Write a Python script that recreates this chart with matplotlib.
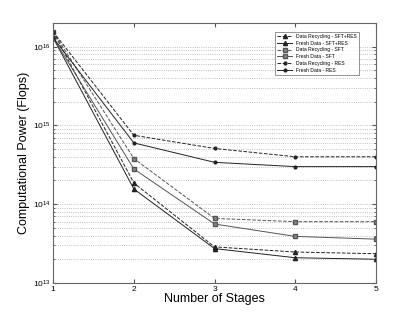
import numpy as np
import matplotlib.pyplot as plt
from matplotlib.ticker import LogLocator, NullFormatter

plt.rcParams['font.family'] = ['Liberation Sans', 'DejaVu Sans']

stages = [1, 2, 3, 4, 5]
dr_sft_res = [1.55e16, 1.86e14, 2.87e13, 2.47e13, 2.35e13]
fd_sft_res = [1.3e16, 1.56e14, 2.73e13, 2.09e13, 2.0e13]
dr_sft = [1.55e16, 3.8e14, 6.6e13, 6.0e13, 6.0e13]
fd_sft = [1.3e16, 2.8e14, 5.6e13, 3.9e13, 3.6e13]
dr_res = [1.55e16, 7.5e14, 5.1e14, 4.0e14, 4.0e14]
fd_res = [1.3e16, 6.0e14, 3.4e14, 3.0e14, 3.0e14]

fig = plt.figure(figsize=(4.15, 3.19), dpi=100)
ax = fig.add_axes([0.128, 0.113, 0.778, 0.815])

lw = 0.7
ax.plot(stages, dr_sft_res, '--^', color='#222222', lw=lw, ms=3, label='Data Recycling - SFT+RES')
ax.plot(stages, fd_sft_res, '-^', color='#222222', lw=lw, ms=3, label='Fresh Data - SFT+RES')
ax.plot(stages, dr_sft, '--s', color='#555555', lw=lw, ms=2.5, mfc='#888888', label='Data Recycling - SFT')
ax.plot(stages, fd_sft, '-s', color='#555555', lw=lw, ms=2.5, mfc='#888888', label='Fresh Data - SFT')
ax.plot(stages, dr_res, '--.', color='#222222', lw=lw, ms=4, label='Data Recycling - RES')
ax.plot(stages, fd_res, color='#222222', lw=lw, ls='-', marker='.', ms=4, label='Fresh Data - RES')

ax.set_yscale('log')
ax.set_xlim(1, 5)
ax.set_ylim(1e13, 2e16)
ax.set_xticks(stages)
ax.yaxis.set_major_locator(LogLocator(base=10, numticks=10))
ax.yaxis.set_minor_locator(LogLocator(base=10, subs=np.arange(2, 10), numticks=20))
ax.yaxis.set_minor_formatter(NullFormatter())
ax.grid(True, which='both', axis='y', linestyle=':', color='#aaaaaa', lw=0.6)
ax.tick_params(which='both', direction='in', top=True, right=True, labelsize=6, pad=2, color='#555555')
ax.tick_params(which='major', length=3)
ax.tick_params(which='minor', length=1.5)
for s in ax.spines.values():
    s.set_color('#666666')
    s.set_linewidth(0.8)

ax.set_xlabel('Number of Stages', fontsize=9, labelpad=0)
ax.set_ylabel('Computational Power (Flops)', fontsize=9, labelpad=2)

leg = ax.legend(loc='upper right', fontsize=3.6, frameon=True, fancybox=False,
                edgecolor='#444444', borderpad=0.4, labelspacing=0.35, handlelength=3,
                bbox_to_anchor=(0.955, 0.975))
leg.get_frame().set_linewidth(0.5)

fig.savefig('out.png', dpi=100)
